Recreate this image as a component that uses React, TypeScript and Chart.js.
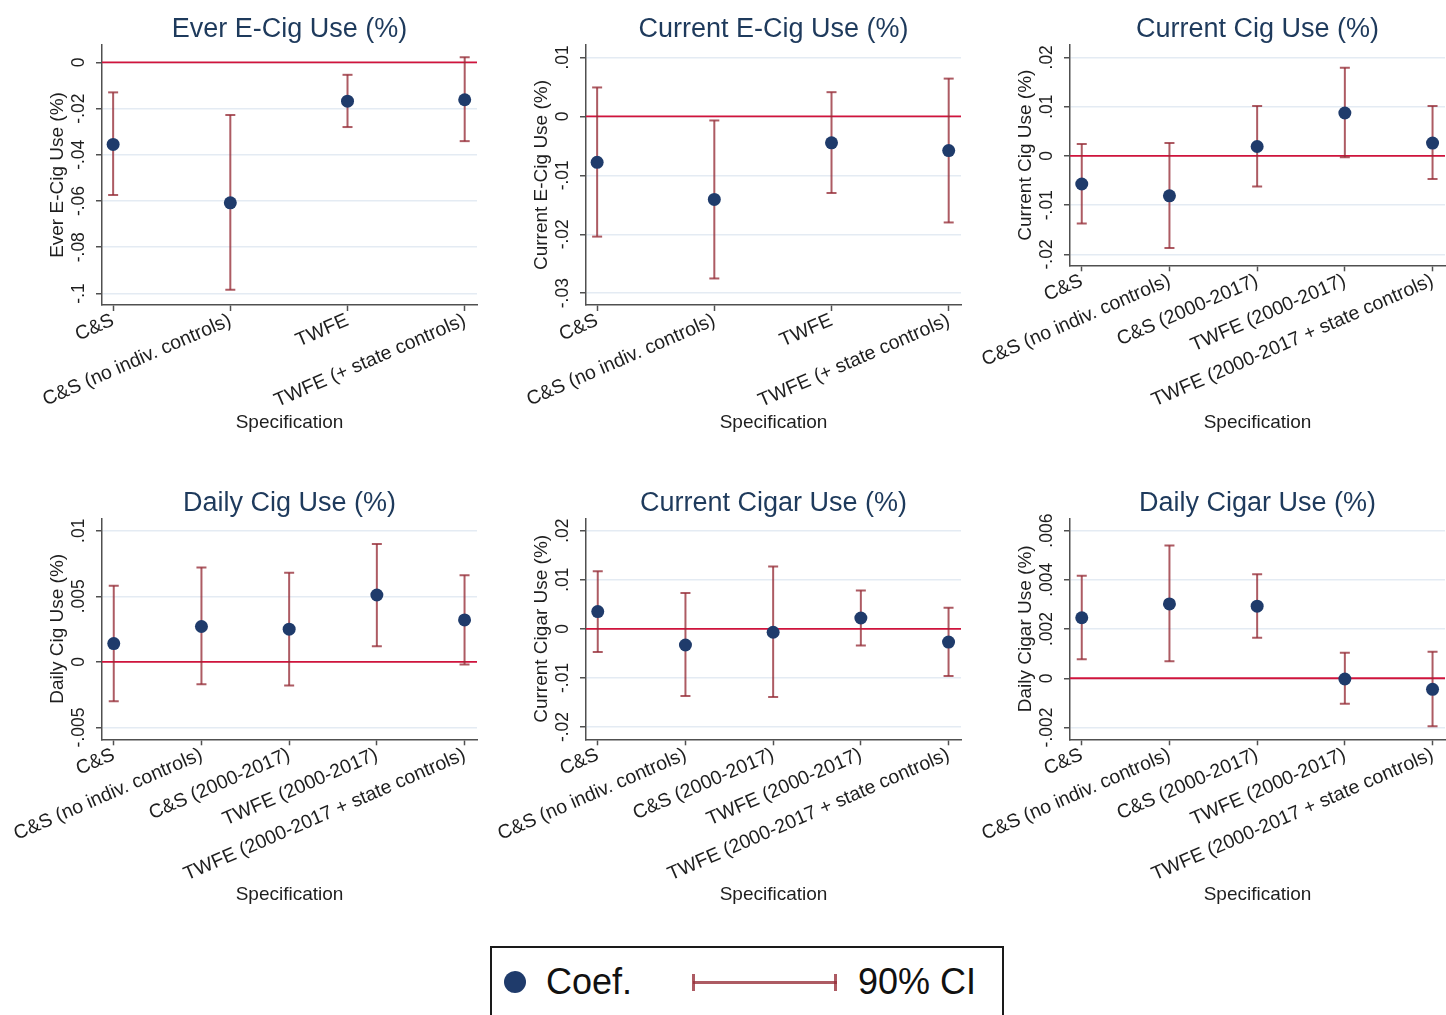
import React, { useEffect, useRef } from "react";
import { Chart, registerables } from "chart.js";
Chart.register(...registerables);

const FONT = "'Liberation Sans', Arial, Helvetica, sans-serif";
const NAVY = "#1f3b6b";
const CI_COLOR = "rgba(150, 45, 55, 0.78)";
const ZERO_COLOR = "#d0143c";
const GRID_COLOR = "#e4ebf3";
const AXIS_COLOR = "#505050";
const TXT = "#1e1e1e";
const TITLE_COLOR = "#1e3a5c";

// ---- categories ----
const specs4 = ["C&S", "C&S (no indiv. controls)", "TWFE", "TWFE (+ state controls)"];
const specs5 = [
  "C&S",
  "C&S (no indiv. controls)",
  "C&S (2000-2017)",
  "TWFE (2000-2017)",
  "TWFE (2000-2017 + state controls)",
];

// ---- Ever E-Cig Use ----
const everEcigCoef = [-0.0355, -0.0608, -0.0168, -0.0162];
const everEcigLo = [-0.0574, -0.0984, -0.028, -0.0341];
const everEcigHi = [-0.013, -0.0228, -0.0054, 0.0022];
const everEcigTicks = ["0", "-.02", "-.04", "-.06", "-.08", "-.1"];

// ---- Current E-Cig Use ----
const curEcigCoef = [-0.0078, -0.0141, -0.0045, -0.0058];
const curEcigLo = [-0.0204, -0.0275, -0.013, -0.018];
const curEcigHi = [0.0049, -0.0007, 0.0041, 0.0064];
const curEcigTicks = [".01", "0", "-.01", "-.02", "-.03"];

// ---- Current Cig Use ----
const curCigCoef = [-0.0057, -0.0081, 0.0019, 0.0087, 0.0026];
const curCigLo = [-0.0137, -0.0187, -0.0062, -0.0003, -0.0047];
const curCigHi = [0.0024, 0.0026, 0.0101, 0.0179, 0.0101];
const curCigTicks = [".02", ".01", "0", "-.01", "-.02"];

// ---- Daily Cig Use ----
const dailyCigCoef = [0.0014, 0.0027, 0.0025, 0.0051, 0.0032];
const dailyCigLo = [-0.003, -0.0017, -0.0018, 0.0012, -0.0002];
const dailyCigHi = [0.0058, 0.0072, 0.0068, 0.009, 0.0066];
const dailyCigTicks = [".01", ".005", "0", "-.005"];

// ---- Current Cigar Use ----
const curCigarCoef = [0.0035, -0.0033, -0.0007, 0.0022, -0.0027];
const curCigarLo = [-0.0047, -0.0137, -0.0139, -0.0034, -0.0096];
const curCigarHi = [0.0117, 0.0073, 0.0127, 0.0078, 0.0043];
const curCigarTicks = [".02", ".01", "0", "-.01", "-.02"];

// ---- Daily Cigar Use ----
const dailyCigarCoef = [0.00246, 0.00302, 0.00293, -0.00003, -0.00045];
const dailyCigarLo = [0.00077, 0.00069, 0.00165, -0.00104, -0.00195];
const dailyCigarHi = [0.00417, 0.00539, 0.00423, 0.00104, 0.00108];
const dailyCigarTicks = [".006", ".004", ".002", "0", "-.002"];

type Panel = {
  title: string;
  yTitle: string;
  cats: string[];
  coef: number[];
  lo: number[];
  hi: number[];
  ticks: string[];
  yMin: number;
  yMax: number;
  col: number;
  row: number;
  xAxisH: number;
};

const panels: Panel[] = [
  { title: "Ever E-Cig Use (%)", yTitle: "Ever E-Cig Use (%)", cats: specs4, coef: everEcigCoef, lo: everEcigLo, hi: everEcigHi, ticks: everEcigTicks, yMin: -0.105, yMax: 0.0075, col: 0, row: 0, xAxisH: 165 },
  { title: "Current E-Cig Use (%)", yTitle: "Current E-Cig Use (%)", cats: specs4, coef: curEcigCoef, lo: curEcigLo, hi: curEcigHi, ticks: curEcigTicks, yMin: -0.032, yMax: 0.0121, col: 1, row: 0, xAxisH: 165 },
  { title: "Current Cig Use (%)", yTitle: "Current Cig Use (%)", cats: specs5, coef: curCigCoef, lo: curCigLo, hi: curCigHi, ticks: curCigTicks, yMin: -0.0222, yMax: 0.0225, col: 2, row: 0, xAxisH: 204.7 },
  { title: "Daily Cig Use (%)", yTitle: "Daily Cig Use (%)", cats: specs5, coef: dailyCigCoef, lo: dailyCigLo, hi: dailyCigHi, ticks: dailyCigTicks, yMin: -0.0059, yMax: 0.01095, col: 0, row: 1, xAxisH: 200.7 },
  { title: "Current Cigar Use (%)", yTitle: "Current Cigar Use (%)", cats: specs5, coef: curCigarCoef, lo: curCigarLo, hi: curCigarHi, ticks: curCigarTicks, yMin: -0.0225, yMax: 0.0225, col: 1, row: 1, xAxisH: 200.7 },
  { title: "Daily Cigar Use (%)", yTitle: "Daily Cigar Use (%)", cats: specs5, coef: dailyCigarCoef, lo: dailyCigarLo, hi: dailyCigarHi, ticks: dailyCigarTicks, yMin: -0.00248, yMax: 0.0065, col: 2, row: 1, xAxisH: 200.7 },
];

const CW = 484;
const CH = 470;

const yTickLabelPlugin = {
  id: "yTickLabelPlugin",
  afterDraw(chart: any) {
    const s = chart.scales.y;
    const labels: string[] = chart.options.plugins.yTickLabelPlugin.labels;
    const ctx = chart.ctx;
    ctx.save();
    ctx.font = `17.5px ${FONT}`;
    ctx.fillStyle = TXT;
    ctx.textAlign = "center";
    ctx.textBaseline = "middle";
    labels.forEach((lab) => {
      const y = s.getPixelForValue(parseFloat(lab));
      ctx.save();
      ctx.translate(chart.chartArea.left - 23, y);
      ctx.rotate(-Math.PI / 2);
      ctx.fillText(lab, 0, 0);
      ctx.restore();
    });
    ctx.restore();
  },
};

function PanelChart({ p }: { p: Panel }) {
  const ref = useRef<HTMLCanvasElement | null>(null);
  useEffect(() => {
    if (!ref.current) return;
    const n = p.cats.length;
    const xMin = n === 4 ? 0.905 : 0.866;
    const xMax = n === 4 ? 4.105 : 5.142;
    const row1 = p.row === 0;
    const ciData: any[] = [];
    const capData: any[] = [];
    p.cats.forEach((_, i) => {
      ciData.push({ x: i + 1, y: p.lo[i] }, { x: i + 1, y: p.hi[i] }, { x: i + 1, y: null });
      capData.push({ x: i + 1, y: p.lo[i] }, { x: i + 1, y: p.hi[i] });
    });
    const coefData = p.coef.map((v, i) => ({ x: i + 1, y: v }));
    const tickVals = p.ticks.map((t) => parseFloat(t));
    const chart = new Chart(ref.current, {
      type: "scatter",
      data: {
        datasets: [
          {
            type: "line",
            label: "zero",
            data: [
              { x: xMin, y: 0 },
              { x: xMax, y: 0 },
            ],
            borderColor: ZERO_COLOR,
            borderWidth: 1.8,
            pointRadius: 0,
            order: 4,
          } as any,
          {
            type: "line",
            label: "90% CI",
            data: ciData,
            borderColor: CI_COLOR,
            borderWidth: 2,
            pointRadius: 0,
            spanGaps: false,
            order: 3,
          } as any,
          {
            type: "scatter",
            label: "caps",
            data: capData,
            pointStyle: "line",
            pointRadius: 5,
            borderColor: CI_COLOR,
            borderWidth: 2,
            order: 2,
          } as any,
          {
            type: "scatter",
            label: "Coef.",
            data: coefData,
            pointStyle: "circle",
            pointRadius: 6.5,
            backgroundColor: NAVY,
            borderColor: NAVY,
            borderWidth: 0,
            order: 1,
          } as any,
        ],
      },
      options: {
        animation: false,
        responsive: false,
        maintainAspectRatio: false,
        events: [],
        layout: { padding: 0 },
        plugins: {
          legend: { display: false },
          tooltip: { enabled: false },
          title: {
            display: true,
            text: p.title,
            fullSize: false,
            color: TITLE_COLOR,
            font: { family: FONT, size: 27, weight: "normal", lineHeight: 1 },
            padding: row1 ? { top: 16, bottom: 2 } : { top: 20, bottom: 1.3 },
          },
          yTickLabelPlugin: { labels: p.ticks },
        } as any,
        scales: {
          x: {
            type: "linear",
            min: xMin,
            max: xMax,
            afterBuildTicks: (s: any) => {
              s.ticks = p.cats.map((_, i) => ({ value: i + 1 }));
            },
            afterFit: (s: any) => {
              s.height = p.xAxisH;
            },
            ticks: {
              autoSkip: false,
              minRotation: 23.5,
              maxRotation: 23.5,
              padding: -2,
              color: TXT,
              font: { family: FONT, size: 19.5 },
              callback: (v: any) => p.cats[Math.round(Number(v)) - 1] ?? "",
            },
            grid: {
              drawOnChartArea: false,
              drawTicks: true,
              tickLength: 6,
              tickColor: AXIS_COLOR,
              tickWidth: 1.5,
            },
            border: { display: true, color: AXIS_COLOR, width: 1.5 },
            title: {
              display: true,
              text: "Specification",
              color: TXT,
              font: { family: FONT, size: 19 },
              padding: { top: 0, bottom: row1 ? 35.6 : 33.6 },
            },
          },
          y: {
            type: "linear",
            min: p.yMin,
            max: p.yMax,
            afterBuildTicks: (s: any) => {
              s.ticks = tickVals.map((v) => ({ value: v }));
            },
            afterFit: (s: any) => {
              s.width = 102;
            },
            ticks: { display: false },
            grid: {
              color: GRID_COLOR,
              lineWidth: 1.5,
              drawTicks: true,
              tickLength: 6,
              tickColor: AXIS_COLOR,
              tickWidth: 1.5,
            },
            border: { display: true, color: AXIS_COLOR, width: 1.5 },
            title: {
              display: true,
              text: p.yTitle,
              color: TXT,
              font: { family: FONT, size: 19 },
              padding: { top: 46, bottom: 0 },
            },
          },
        },
      } as any,
      plugins: [yTickLabelPlugin],
    });
    return () => chart.destroy();
  }, [p]);
  return (
    <canvas
      ref={ref}
      width={CW}
      height={CH}
      style={{ position: "absolute", left: p.col * CW, top: p.row * CH, width: CW, height: CH, display: "block" }}
    />
  );
}

function Legend() {
  const abs = (s: React.CSSProperties): React.CSSProperties => ({ position: "absolute", ...s });
  return (
    <>
      <div style={abs({ left: 490, top: 946, width: 514, height: 90, border: "2px solid #1a1a1a", boxSizing: "border-box", background: "#fff" })} />
      <div style={abs({ left: 504, top: 971, width: 22, height: 22, borderRadius: "50%", background: NAVY })} />
      <div style={abs({ left: 546, top: 961, fontFamily: FONT, fontSize: 36, lineHeight: "42px", color: "#111" })}>Coef.</div>
      <div style={abs({ left: 693, top: 981, width: 144, height: 3, background: CI_COLOR })} />
      <div style={abs({ left: 692, top: 974, width: 3, height: 17, background: CI_COLOR })} />
      <div style={abs({ left: 834, top: 974, width: 3, height: 17, background: CI_COLOR })} />
      <div style={abs({ left: 858, top: 961, fontFamily: FONT, fontSize: 36, lineHeight: "42px", color: "#111" })}>90% CI</div>
    </>
  );
}

export default function App() {
  return (
    <div style={{ position: "absolute", left: 0, top: 0, width: 1446, height: 1015, overflow: "hidden", background: "#fff" }}>
      {panels.map((p, i) => (
        <PanelChart key={i} p={p} />
      ))}
      <Legend />
    </div>
  );
}
